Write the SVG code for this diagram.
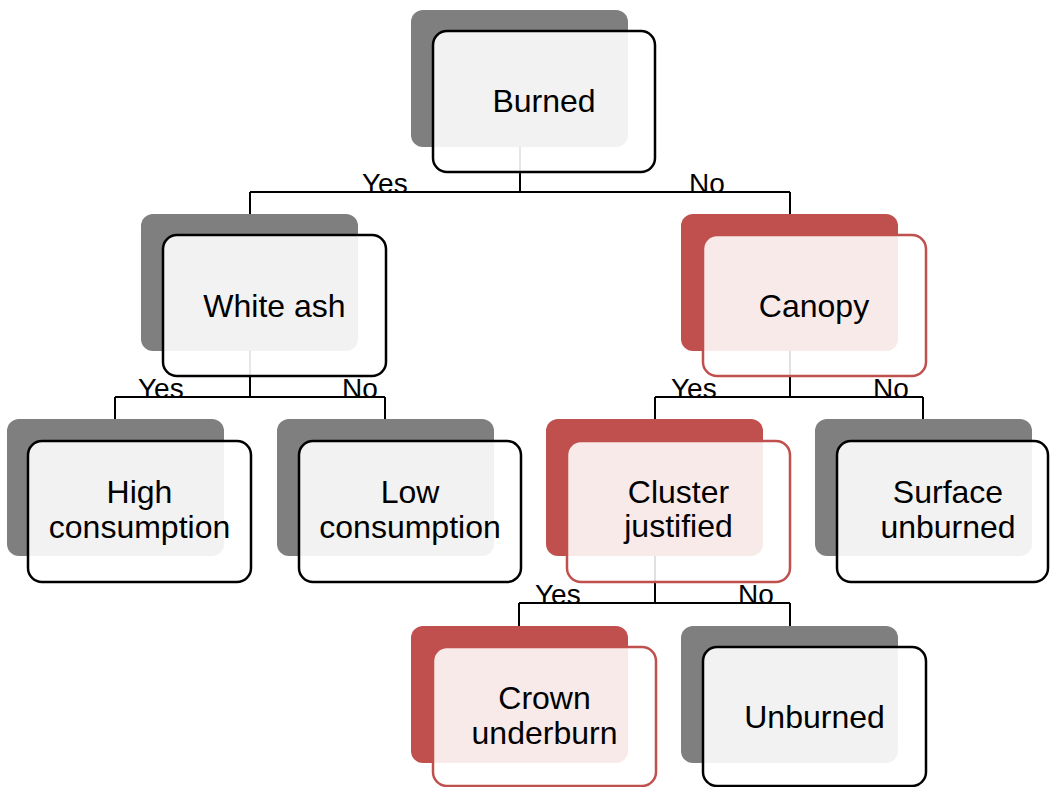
<svg xmlns="http://www.w3.org/2000/svg" width="1050" height="787" viewBox="0 0 1050 787">
<style>
.bg{fill:#ffffff}
.conn{stroke:#000000;stroke-width:2;fill:none}
.bkg{fill:#7f7f7f}
.bkr{fill:#c0504d}
.frg{fill:#ffffff;fill-opacity:0.9;stroke:#000000;stroke-width:2.5}
.frr{fill:#ffffff;fill-opacity:0.88;stroke:#c0504d;stroke-width:2.5}
.t{font-family:"Liberation Sans",Arial,sans-serif;font-size:32px;fill:#000000;text-anchor:middle}
.l{font-family:"Liberation Sans",Arial,sans-serif;font-size:28px;fill:#000000}
</style>
<rect class="bg" x="0" y="0" width="1050" height="787"/>
<g id="connectors">
<path class="conn" d="M520,147 V192 M250,192 H790 M250,192 V214 M790,192 V214"/>
<path class="conn" d="M250,351 V397 M115,397 H385 M115,397 V419 M385,397 V419"/>
<path class="conn" d="M790,351 V397 M655,397 H923 M655,397 V419 M923,397 V419"/>
<path class="conn" d="M655,556 V603 M519,603 H790 M519,603 V626 M790,603 V626"/>
<text class="l" x="362" y="193">Yes</text>
<text class="l" x="689" y="193">No</text>
<text class="l" x="138" y="398">Yes</text>
<text class="l" x="342" y="398">No</text>
<text class="l" x="671" y="398">Yes</text>
<text class="l" x="873" y="398">No</text>
<text class="l" x="535" y="604">Yes</text>
<text class="l" x="738" y="604">No</text>
</g>
<g id="burned">
<rect class="bkg" x="411" y="10" width="217" height="137" rx="12"/>
<rect class="frg" x="433" y="31" width="222" height="141" rx="14"/>
<text class="t" x="544" y="112">Burned</text>
</g>
<g id="white-ash">
<rect class="bkg" x="141" y="214" width="217" height="137" rx="12"/>
<rect class="frg" x="163" y="235" width="223" height="141" rx="14"/>
<text class="t" x="274.5" y="317">White ash</text>
</g>
<g id="canopy">
<rect class="bkr" x="681" y="214" width="217" height="137" rx="12"/>
<rect class="frr" x="703" y="235" width="223" height="141" rx="14"/>
<text class="t" x="814" y="317">Canopy</text>
</g>
<g id="high-consumption">
<rect class="bkg" x="7" y="419" width="217" height="137" rx="12"/>
<rect class="frg" x="28" y="441" width="223" height="141" rx="14"/>
<text class="t" x="139.5" y="503">High</text>
<text class="t" x="139.5" y="538">consumption</text>
</g>
<g id="low-consumption">
<rect class="bkg" x="277" y="419" width="217" height="137" rx="12"/>
<rect class="frg" x="299" y="441" width="222" height="141" rx="14"/>
<text class="t" x="410" y="503">Low</text>
<text class="t" x="410" y="538">consumption</text>
</g>
<g id="cluster-justified">
<rect class="bkr" x="546" y="419" width="217" height="137" rx="12"/>
<rect class="frr" x="567" y="441" width="223" height="141" rx="14"/>
<text class="t" x="678.5" y="503">Cluster</text>
<text class="t" x="678.5" y="537">justified</text>
</g>
<g id="surface-unburned">
<rect class="bkg" x="815" y="419" width="217" height="137" rx="12"/>
<rect class="frg" x="837" y="441" width="211" height="141" rx="14"/>
<text class="t" x="948" y="503">Surface</text>
<text class="t" x="948" y="538">unburned</text>
</g>
<g id="crown-underburn">
<rect class="bkr" x="411" y="626" width="217" height="137" rx="12"/>
<rect class="frr" x="433" y="647" width="223" height="139" rx="14"/>
<text class="t" x="544.5" y="709">Crown</text>
<text class="t" x="544.5" y="744">underburn</text>
</g>
<g id="unburned">
<rect class="bkg" x="681" y="626" width="217" height="137" rx="12"/>
<rect class="frg" x="703" y="647" width="223" height="139" rx="14"/>
<text class="t" x="814.5" y="728">Unburned</text>
</g>
</svg>
